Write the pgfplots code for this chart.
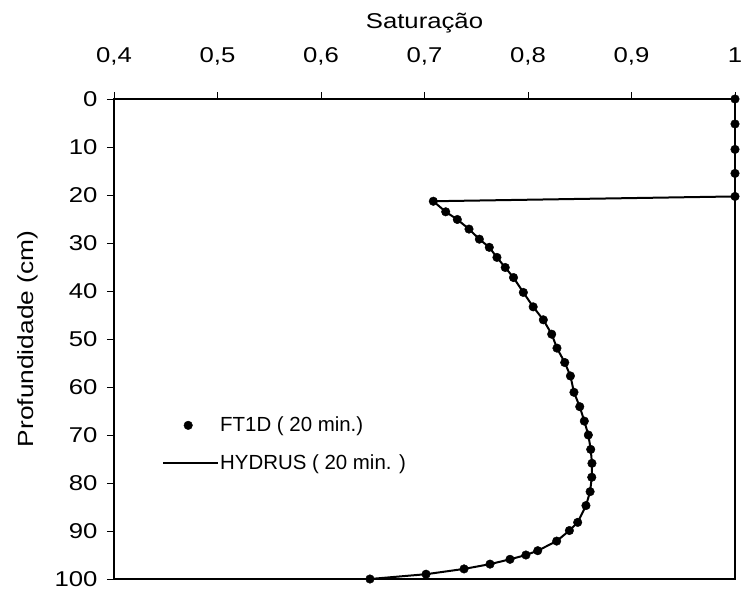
\documentclass[border=0pt]{standalone}
\usepackage{pgfplots}
\usepackage{pgfplotstable}
\pgfplotsset{compat=1.18}
\usepackage{fontspec}
\setmainfont[FakeStretch=1.2]{Liberation Sans}
\newfontfamily\legfont{Liberation Sans}

\pgfplotstableread{
x y
1.0 0
1.0 5.2
1.0 10.5
1.0 15.5
1.0 20.3
0.7085 21.3
0.7205 23.5
0.7317 25.1
0.7430 27.1
0.7530 29.2
0.7626 30.9
0.7700 33.0
0.7780 35.1
0.7860 37.2
0.7955 40.3
0.8050 43.3
0.8148 46.0
0.8229 49.0
0.8280 51.9
0.8355 54.9
0.8410 57.7
0.8444 61.1
0.8500 64.1
0.8544 67.1
0.8583 70.0
0.8606 73.0
0.8618 75.9
0.8616 78.8
0.8600 81.8
0.8560 84.7
0.8480 88.2
0.8400 89.9
0.8277 92.1
0.8094 94.1
0.7980 95.0
0.7826 95.9
0.7633 96.9
0.7382 97.9
0.7015 99.0
0.6473 100.0
}\satdata

\begin{document}
\begin{tikzpicture}
\begin{axis}[
  scale only axis, width=621bp, height=480bp,
  at={(0,0)}, anchor=south west,
  xmin=0.4, xmax=1, ymin=0, ymax=100, y dir=reverse,
  xtick={0.4,0.5,0.6,0.7,0.8,0.9,1},
  ytick={0,10,20,30,40,50,60,70,80,90,100},
  xticklabel pos=upper, xtick pos=upper, ytick pos=left,
  tick align=outside, major tick length=7bp,
  every tick/.style={black, line width=0.8bp},
  axis line style={line width=1.6bp},
  /pgf/number format/assume math mode=true,
  /pgf/number format/use comma,
  /pgf/number format/fixed,
  /pgf/number format/precision=1,
  tick label style={font=\fontsize{21.5}{25}\selectfont},
  xticklabel style={anchor=base, yshift=30bp},
  yticklabel style={xshift=-6bp},
  xlabel={Saturação},
  xlabel style={at={(axis description cs:0.5,1.1479)}, anchor=base, font=\fontsize{21.5}{25}\selectfont},
  ylabel={Profundidade (cm)},
  ylabel style={at={(axis description cs:-0.1304,0.5)}, anchor=base, font=\fontsize{22}{26}\selectfont},
  legend style={draw=none, fill=none, at={(axis description cs:0.0773,0.3396)}, anchor=north west,
    inner sep=0pt, row sep=19bp, font=\legfont\fontsize{20.5}{24}\selectfont, nodes={inner sep=1bp}},
  legend cell align=left,
]
\addplot[only marks, mark=*, mark size=4.3bp, black,
  legend image code/.code={\path[draw=none,fill=none] (0bp,0bp) -- (55bp,0bp); \fill[black] (25bp,0bp) circle (4.3bp);}]
  table[x=x, y=y] {\satdata};
\addlegendentry{FT1D ( 20 min.)}
\addplot[black, line width=2bp, line join=round, mark=none,
  legend image code/.code={\draw[black, line width=2bp] (0bp,0bp) -- (55bp,0bp);}]
  table[x=x, y=y] {\satdata};
\addlegendentry{HYDRUS ( 20 min. )}
\end{axis}
\pgfresetboundingbox
\path[use as bounding box] (-114bp,-12bp) rectangle (634bp,579bp);
\end{tikzpicture}
\end{document}
